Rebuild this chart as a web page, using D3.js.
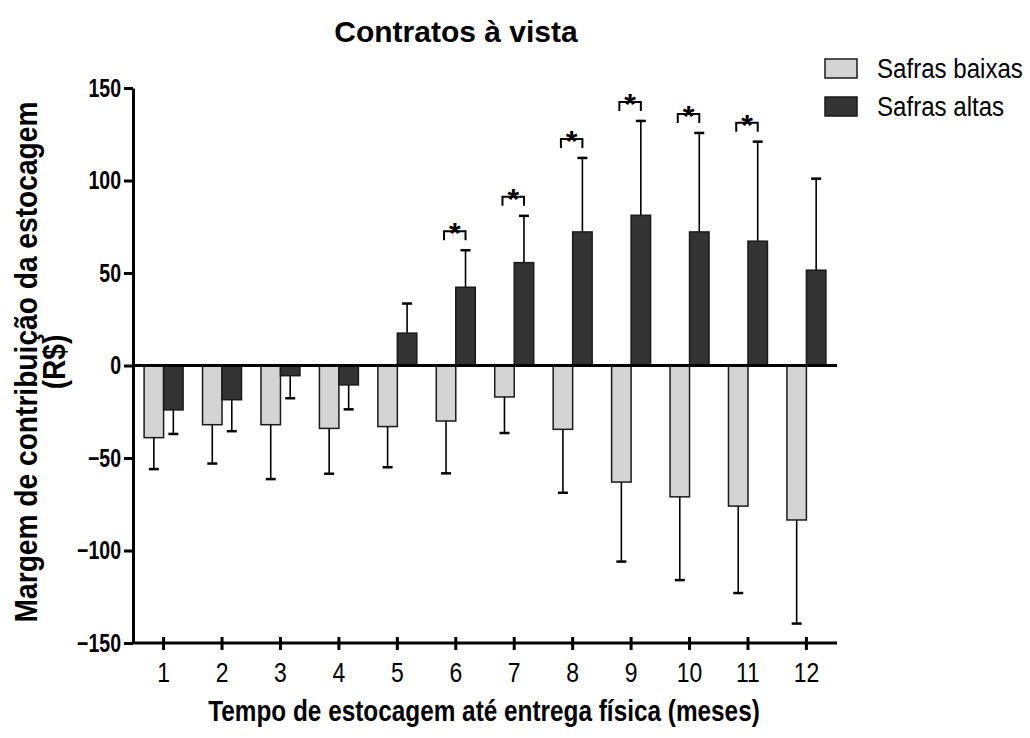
<!DOCTYPE html>
<html lang="pt">
  <head>
    <meta charset="utf-8">
    <title>Contratos à vista</title>
    <script type="text/javascript" src="https://cdn.jsdelivr.net/npm/d3@7"></script>
    <style>
      body { margin: 0; background: #fff; }
      text { font-family: Arial, "Liberation Sans", sans-serif; }
    </style>
  </head>
  <body>
    <script type="text/javascript">
    // months of storage until delivery
    var months = ["1", "2", "3", "4", "5", "6", "7", "8", "9", "10", "11", "12"];

    // Safras baixas (low harvests): mean and SD
    var baixasMean = [-39, -32, -32, -34, -33, -30, -17, -34.5, -63, -71, -76, -83.5];
    var baixasSD   = [17, 21, 29.4, 24.5, 22, 28.3, 19.5, 34.3, 43, 45, 47, 56];

    // Safras altas (high harvests): mean and SD
    var altasMean = [-24, -18.5, -5.5, -10.5, 17.5, 42.3, 55.6, 72.2, 81.2, 72.2, 67.2, 51.5];
    var altasSD   = [13, 17, 12.2, 13.2, 16, 20, 25.3, 40, 51, 53.5, 53.8, 49.5];

    var seriesNames = ["Safras baixas", "Safras altas"];
    var seriesColors = ["#d4d4d4", "#333333"];

    // months with a significant difference
    var signif = ["6", "7", "8", "9", "10", "11"];

    var yTicks = [-150, -100, -50, 0, 50, 100, 150];

    var w = 1030;
    var h = 738;

    // the original text looks narrow and tall: squeeze text horizontally
    var squeeze = function(sel, sx) {
      sel.each(function() {
        var t = d3.select(this);
        var tx = +t.attr("x") || 0;
        var ty = +t.attr("y") || 0;
        t.attr("x", 0).attr("y", 0)
         .attr("transform", "translate(" + tx + "," + ty + ") scale(" + sx + ",1)");
      });
    }

    var svg = d3.select("body")
                .append("svg")
                .attr("width", w)
                .attr("height", h);

    var x0 = d3.scaleBand()
               .domain(months)
               .range([133, 837])
               .paddingInner(0.333)
               .paddingOuter(0.19);

    var x1 = d3.scaleBand()
               .domain(seriesNames)
               .range([0, x0.bandwidth()]);

    var y = d3.scaleLinear()
              .domain([-150, 150])
              .range([643, 88]);

    // build rows per bar
    var rows = [];
    months.forEach(function(m, i) {
      rows.push({month: m, s: seriesNames[0], mean: baixasMean[i], sd: baixasSD[i], c: seriesColors[0]});
      rows.push({month: m, s: seriesNames[1], mean: altasMean[i], sd: altasSD[i], c: seriesColors[1]});
    });

    // error bars (drawn first so bars sit on top)
    var errG = svg.append("g");
    rows.forEach(function(d) {
      var cx = x0(d.month) + x1(d.s) + x1.bandwidth() / 2;
      var end = d.mean >= 0 ? d.mean + d.sd : d.mean - d.sd;
      errG.append("line")
          .attr("x1", cx).attr("x2", cx)
          .attr("y1", y(d.mean)).attr("y2", y(end))
          .attr("stroke", "#000").attr("stroke-width", 1.6);
      errG.append("line")
          .attr("x1", cx - 5).attr("x2", cx + 5)
          .attr("y1", y(end)).attr("y2", y(end))
          .attr("stroke", "#000").attr("stroke-width", 2.5);
    });

    // bars
    svg.append("g")
       .selectAll("rect")
       .data(rows)
       .enter()
       .append("rect")
       .attr("x", function(d) { return x0(d.month) + x1(d.s); })
       .attr("y", function(d) { return y(Math.max(0, d.mean)); })
       .attr("width", x1.bandwidth())
       .attr("height", function(d) { return Math.abs(y(d.mean) - y(0)); })
       .attr("fill", function(d) { return d.c; })
       .attr("stroke", "#1a1a1a")
       .attr("stroke-width", 1.5);

    // zero line
    svg.append("line")
       .attr("x1", 133).attr("x2", 837)
       .attr("y1", y(0)).attr("y2", y(0))
       .attr("stroke", "#000").attr("stroke-width", 3);

    // y axis
    var yAxis = d3.axisLeft(y)
                  .tickValues(yTicks)
                  .tickSize(9)
                  .tickSizeOuter(0)
                  .tickPadding(3);
    var gy = svg.append("g")
                .attr("transform", "translate(133,0)")
                .call(yAxis);
    gy.attr("font-family", "Arial, 'Liberation Sans', sans-serif").attr("font-size", 25);
    gy.select(".domain").attr("stroke-width", 3);
    gy.selectAll(".tick line").attr("stroke-width", 3);
    gy.selectAll(".tick text")
      .attr("font-weight", "bold")
      .attr("fill", "#000")
      .call(squeeze, 0.78);

    // x axis
    var xAxis = d3.axisBottom(x0)
                  .tickSize(7)
                  .tickSizeOuter(0)
                  .tickPadding(12);
    var gx = svg.append("g")
                .attr("transform", "translate(0,643)")
                .call(xAxis);
    gx.attr("font-family", "Arial, 'Liberation Sans', sans-serif").attr("font-size", 28);
    gx.select(".domain").attr("stroke-width", 3).attr("d", "M133,0H837");
    gx.selectAll(".tick line").attr("y1", -6).attr("stroke-width", 3);
    gx.selectAll(".tick text").attr("fill", "#000").call(squeeze, 0.82);

    // significance brackets
    var sigG = svg.append("g");
    signif.forEach(function(m) {
      var i = months.indexOf(m);
      var xa = x0(m) + x1(seriesNames[0]) + x1.bandwidth() / 2 - 2;
      var xb = x0(m) + x1(seriesNames[1]) + x1.bandwidth() / 2;
      var top = y(altasMean[i] + altasSD[i]) - 19;
      sigG.append("path")
          .attr("d", "M" + xa + "," + (top + 9) + "V" + top + "H" + xb + "V" + (top + 9))
          .attr("fill", "none")
          .attr("stroke", "#000")
          .attr("stroke-width", 2);
      sigG.append("text")
          .attr("x", (xa + xb) / 2)
          .attr("y", top + 12)
          .attr("text-anchor", "middle")
          .attr("font-size", 30)
          .attr("font-weight", "bold")
          .text("*");
    });

    // title
    svg.append("text")
       .attr("x", 456).attr("y", 42)
       .attr("text-anchor", "middle")
       .attr("font-size", 30)
       .attr("font-weight", "bold")
       .text("Contratos à vista");

    // axis titles
    svg.append("text")
       .attr("x", 484).attr("y", 721)
       .attr("text-anchor", "middle")
       .attr("font-size", 29)
       .attr("font-weight", "bold")
       .text("Tempo de estocagem até entrega física (meses)")
       .call(squeeze, 0.84);

    var yt = svg.append("text")
                .attr("transform", "translate(37,362) rotate(-90) scale(0.88,1)")
                .attr("text-anchor", "middle")
                .attr("font-size", 32)
                .attr("font-weight", "bold");
    yt.append("tspan").attr("x", 0).attr("dy", 0).text("Margem de contribuição da estocagem");
    yt.append("tspan").attr("x", 0).attr("dy", 28).text("(R$)");

    // legend
    var lg = svg.append("g");
    seriesNames.forEach(function(s, i) {
      lg.append("rect")
        .attr("x", 825).attr("y", 59 + i * 38)
        .attr("width", 32).attr("height", 19)
        .attr("fill", seriesColors[i])
        .attr("stroke", "#1a1a1a")
        .attr("stroke-width", 1.5);
      lg.append("text")
        .attr("x", 877).attr("y", 78 + i * 38)
        .attr("font-size", 28)
        .text(s)
        .call(squeeze, 0.86);
    });
    </script>
  </body>
</html>
